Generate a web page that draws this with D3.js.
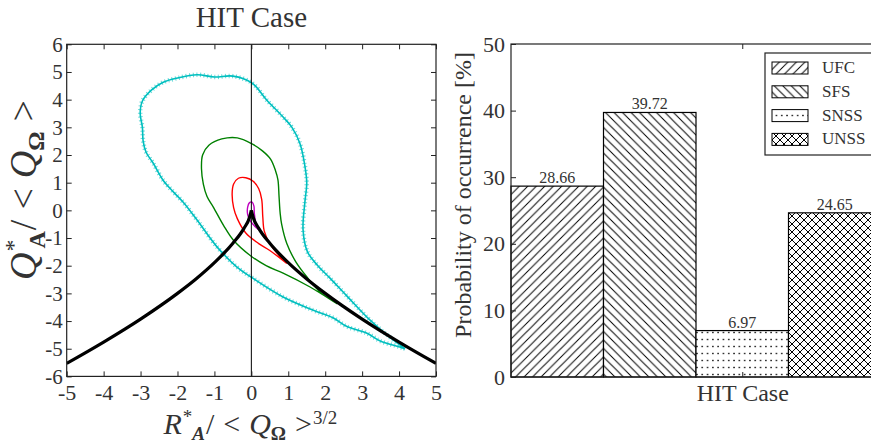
<!DOCTYPE html>
<html>
<head>
<meta charset="utf-8">
<script src="https://cdn.jsdelivr.net/npm/d3@7"></script>
<style>
  html, body { margin: 0; padding: 0; background: #fff; }
  svg { display: block; }
  svg text { font-family: "Liberation Serif", "DejaVu Serif", serif !important; fill: #333; }
</style>
</head>
<body>
<svg id="chart" width="871" height="447"></svg>
<script>
// ---------------- DATA ----------------
// Left panel: joint PDF contours of (R*_A, Q*_A)
const xTicksLeft = [-5, -4, -3, -2, -1, 0, 1, 2, 3, 4, 5];
const yTicksLeft = [-6, -5, -4, -3, -2, -1, 0, 1, 2, 3, 4, 5, 6];
const leftTitle = "HIT Case";

const contourCyan = [[4.16,-5.0],[3.67,-4.5],[3.2,-3.95],[2.59,-3.1],[2.13,-2.45],[1.8,-2.0],[1.52,-1.5],[1.4,-0.7],[1.45,0.3],[1.5,1.0],[1.45,1.6],[1.32,2.4],[1.1,3.0],[0.86,3.37],[0.42,3.98],[0.02,4.6],[-0.5,4.85],[-1.0,4.82],[-1.47,4.9],[-2.0,4.78],[-2.4,4.62],[-2.7,4.35],[-2.95,3.95],[-3.01,3.5],[-2.95,3.0],[-2.93,2.5],[-2.85,2.1],[-2.66,1.71],[-2.39,1.09],[-2.1,0.65],[-1.85,0.3],[-1.47,-0.35],[-0.93,-1.32],[-0.39,-2.05],[0.04,-2.45],[0.86,-3.13],[1.68,-3.61],[2.21,-3.88],[2.59,-4.2],[3.13,-4.44],[3.49,-4.72],[4.02,-4.94],[4.16,-5.0]];
const contourGreen = [[2.33,-3.38],[1.86,-2.95],[1.5,-2.4],[1.2,-1.85],[0.96,-1.2],[0.82,-0.5],[0.78,-0.1],[0.75,0.5],[0.72,1.1],[0.65,1.45],[0.52,1.85],[0.3,2.15],[0.02,2.4],[-0.38,2.62],[-0.8,2.58],[-1.15,2.35],[-1.32,2.0],[-1.35,1.5],[-1.30,0.95],[-1.2,0.5],[-1.03,0.12],[-0.75,-0.55],[-0.49,-1.07],[-0.04,-1.62],[0.4,-2.0],[0.86,-2.27],[1.59,-2.77],[2.0,-3.1],[2.33,-3.38]];
const contourRed = [[0.96,-1.92],[0.7,-1.55],[0.5,-1.2],[0.35,-0.75],[0.31,-0.24],[0.28,0.4],[0.2,0.78],[0.05,1.05],[-0.15,1.18],[-0.35,1.16],[-0.48,0.95],[-0.52,0.6],[-0.48,0.1],[-0.38,-0.3],[-0.15,-0.82],[0.2,-1.2],[0.5,-1.45],[0.96,-1.92]];
const contourMagenta = [[0.2,-0.7],[0.12,-0.45],[0.08,-0.1],[0.07,0.15],[0.02,0.3],[-0.05,0.28],[-0.1,0.12],[-0.1,-0.15],[-0.02,-0.4],[0.1,-0.58],[0.2,-0.7]];
// Vieillefosse (zero discriminant) line
const vieLeft  = [[-5,-5.53],[-4,-4.76],[-3,-3.93],[-2,-3.0],[-1.5,-2.48],[-1,-1.89],[-0.5,-1.19],[-0.2,-0.65],[-0.05,-0.26],[0,0]];
const vieRight = [[0,0],[0.05,-0.26],[0.2,-0.65],[0.5,-1.19],[1,-1.89],[1.5,-2.48],[2,-3.0],[3,-3.93],[4,-4.76],[5,-5.53]];

// Right panel: probability of occurrence
const categories = ["UFC", "SFS", "SNSS", "UNSS"];
const probValues = [28.66, 39.72, 6.97, 24.65];
const yTicksRight = [0, 10, 20, 30, 40, 50];
const caseLabel = "HIT Case";
const rightYLabel = "Probability of occurrence [%]";

// ---------------- DRAW ----------------
const svg = d3.select("#chart");
const defs = svg.append("defs");

// ===== Left panel =====
const L = { x0: 66.7, x1: 436, y0: 44.3, y1: 376.4 };
const xL = d3.scaleLinear().domain([-5, 5]).range([L.x0, L.x1]);
const yL = d3.scaleLinear().domain([-6, 6]).range([L.y1, L.y0]);

defs.append("clipPath").attr("id", "clipL")
  .append("rect").attr("x", L.x0).attr("y", L.y0).attr("width", L.x1 - L.x0).attr("height", L.y1 - L.y0);

const gL = svg.append("g");
const plotL = gL.append("g").attr("clip-path", "url(#clipL)");

const contourLine = d3.line().x(d => xL(d[0])).y(d => yL(d[1])).curve(d3.curveCatmullRom.alpha(0.5));

// cyan: jagged scatter-like band
plotL.append("path").datum(contourCyan).attr("d", contourLine)
  .attr("fill", "none").attr("stroke", "#00bfbf").attr("stroke-width", 1.6);
plotL.append("path").datum(contourCyan).attr("d", contourLine)
  .attr("fill", "none").attr("stroke", "#00bfbf").attr("stroke-width", 4.5)
  .attr("stroke-dasharray", "1,2.6").attr("opacity", 0.6);

plotL.append("path").datum(contourGreen).attr("d", contourLine)
  .attr("fill", "none").attr("stroke", "#008000").attr("stroke-width", 1.4);
plotL.append("path").datum(contourRed).attr("d", contourLine)
  .attr("fill", "none").attr("stroke", "#ff0000").attr("stroke-width", 1.4);
plotL.append("path").datum(contourMagenta).attr("d", contourLine)
  .attr("fill", "none").attr("stroke", "#bf00bf").attr("stroke-width", 1.4);

const vieLine = d3.line().x(d => xL(d[0])).y(d => yL(d[1])).curve(d3.curveMonotoneX);
plotL.append("path").datum(vieLeft).attr("d", vieLine)
  .attr("fill", "none").attr("stroke", "#000").attr("stroke-width", 3.2);
plotL.append("path").datum(vieRight).attr("d", vieLine)
  .attr("fill", "none").attr("stroke", "#000").attr("stroke-width", 3.2);

// vertical line at R = 0
plotL.append("line").attr("x1", xL(0)).attr("x2", xL(0)).attr("y1", L.y0).attr("y2", L.y1)
  .attr("stroke", "#000").attr("stroke-width", 1);

// frame
gL.append("rect").attr("x", L.x0).attr("y", L.y0).attr("width", L.x1 - L.x0).attr("height", L.y1 - L.y0)
  .attr("fill", "none").attr("stroke", "#222").attr("stroke-width", 1.2);

// inside ticks via d3 axes
const tickLen = 5;
const fmt = d => d < 0 ? "-" + Math.abs(d) : String(d);
gL.append("g").attr("transform", `translate(0,${L.y1})`)
  .call(d3.axisBottom(xL).tickValues(xTicksLeft).tickSize(-tickLen).tickFormat(fmt).tickPadding(8))
  .call(g => g.select(".domain").remove())
  .call(g => g.selectAll("text").attr("font-size", 22));
gL.append("g").attr("transform", `translate(0,${L.y0})`)
  .call(d3.axisTop(xL).tickValues(xTicksLeft).tickSize(-tickLen).tickFormat(""))
  .call(g => g.select(".domain").remove());
gL.append("g").attr("transform", `translate(${L.x0},0)`)
  .call(d3.axisLeft(yL).tickValues(yTicksLeft).tickSize(-tickLen).tickFormat(fmt).tickPadding(4))
  .call(g => g.select(".domain").remove())
  .call(g => g.selectAll("text").attr("font-size", 21));
gL.append("g").attr("transform", `translate(${L.x1},0)`)
  .call(d3.axisRight(yL).tickValues(yTicksLeft).tickSize(-tickLen).tickFormat(""))
  .call(g => g.select(".domain").remove());
svg.selectAll(".tick line").attr("stroke", "#222");

// title
gL.append("text").attr("x", (L.x0 + L.x1) / 2).attr("y", 27).attr("text-anchor", "middle")
  .attr("font-size", 29).text(leftTitle);

// x label: R*_A / < Q_Ω >^{3/2}
const xlab = gL.append("text").attr("x", (L.x0 + L.x1) / 2 - 1).attr("y", 434).attr("text-anchor", "middle")
  .attr("font-size", 30);
xlab.append("tspan").attr("font-style", "italic").text("R");
xlab.append("tspan").attr("font-size", 19).attr("dy", -11).attr("dx", 1).text("*");
xlab.append("tspan").attr("font-size", 19).attr("font-weight", "bold").attr("font-style", "italic").attr("dy", 17).attr("dx", 0).text("A");
xlab.append("tspan").attr("dy", -6).attr("dx", 1).text("/");
xlab.append("tspan").attr("dx", 9).text("<");
xlab.append("tspan").attr("font-style", "italic").attr("dx", 9).text("Q");
xlab.append("tspan").attr("font-size", 19).attr("font-weight", "bold").attr("dy", 6).text("Ω");
xlab.append("tspan").attr("dy", -6).attr("dx", 9).text(">");
xlab.append("tspan").attr("font-size", 19).attr("dy", -10).attr("dx", 1).text("3/2");

// y label: Q*_A / < Q_Ω >
const ylab = gL.append("text").attr("transform", "translate(36,190) rotate(-90)").attr("text-anchor", "middle")
  .attr("font-size", 38);
ylab.append("tspan").attr("font-style", "italic").text("Q");
ylab.append("tspan").attr("font-size", 24).attr("dy", -15).attr("dx", 1).text("*");
ylab.append("tspan").attr("font-size", 24).attr("font-weight", "bold").attr("dy", 24).attr("dx", -9).text("A");
ylab.append("tspan").attr("dy", -9).attr("dx", 1).text("/");
ylab.append("tspan").attr("dx", 10).text("<");
ylab.append("tspan").attr("font-style", "italic").attr("dx", 10).text("Q");
ylab.append("tspan").attr("font-size", 24).attr("font-weight", "bold").attr("dy", 8).text("Ω");
ylab.append("tspan").attr("dy", -8).attr("dx", 10).text(">");

// ===== Right panel =====
const Rp = { x0: 511, x1: 881, y0: 44, y1: 377 };
const xR = d3.scaleBand().domain(categories).range([Rp.x0, Rp.x1]).padding(0);
const yR = d3.scaleLinear().domain([0, 50]).range([Rp.y1, Rp.y0]);
const caseX = xR(categories[2]) + xR.bandwidth() / 2;

// hatch patterns
const hs = 8.5;
function makePattern(id, drawFn, w, h) {
  const p = defs.append("pattern").attr("id", id).attr("patternUnits", "userSpaceOnUse")
    .attr("width", w).attr("height", h);
  p.append("rect").attr("width", w).attr("height", h).attr("fill", "#fff");
  drawFn(p, w, h);
}
makePattern("hatchFwd", (p, w, h) => {
  p.append("path").attr("d", `M${-w},${h} L${w},${-h} M0,${2*h} L${2*w},0 M0,${h} L${w},0`)
    .attr("stroke", "#000").attr("stroke-width", 1).attr("fill", "none");
}, hs, hs);
makePattern("hatchBack", (p, w, h) => {
  p.append("path").attr("d", `M0,0 L${w},${h} M${-w},0 L${w},${2*h} M0,${-h} L${2*w},${h}`)
    .attr("stroke", "#000").attr("stroke-width", 1).attr("fill", "none");
}, hs, hs);
makePattern("hatchDots", (p, w, h) => {
  p.append("rect").attr("x", w / 2 - 0.7).attr("y", h / 2 - 0.7).attr("width", 1.4).attr("height", 1.4).attr("fill", "#000");
}, 5.3, 7);
makePattern("hatchCross", (p, w, h) => {
  p.append("path").attr("d", `M0,${h} L${w},0 M${-w},${h} L${w},${-h} M0,${2*h} L${2*w},0 M0,0 L${w},${h} M${-w},0 L${w},${2*h} M0,${-h} L${2*w},${h}`)
    .attr("stroke", "#000").attr("stroke-width", 1).attr("fill", "none");
}, 8, 8);
const patternIds = ["hatchFwd", "hatchBack", "hatchDots", "hatchCross"];

const gR = svg.append("g");
gR.selectAll("rect.bar").data(categories).join("rect").attr("class", "bar")
  .attr("x", d => xR(d)).attr("width", xR.bandwidth())
  .attr("y", (d, i) => yR(probValues[i])).attr("height", (d, i) => yR(0) - yR(probValues[i]))
  .attr("fill", (d, i) => `url(#${patternIds[i]})`)
  .attr("stroke", "#000").attr("stroke-width", 1.2);

gR.selectAll("text.val").data(categories).join("text").attr("class", "val")
  .attr("x", d => xR(d) + xR.bandwidth() / 2).attr("y", (d, i) => yR(probValues[i]) - 3)
  .attr("text-anchor", "middle").attr("font-size", 16)
  .text((d, i) => probValues[i].toFixed(2));

// frame
gR.append("rect").attr("x", Rp.x0).attr("y", Rp.y0).attr("width", Rp.x1 - Rp.x0).attr("height", Rp.y1 - Rp.y0)
  .attr("fill", "none").attr("stroke", "#222").attr("stroke-width", 1.2);

gR.append("g").attr("transform", `translate(${Rp.x0},0)`)
  .call(d3.axisLeft(yR).tickValues(yTicksRight).tickSize(-tickLen).tickPadding(6))
  .call(g => g.select(".domain").remove())
  .call(g => g.selectAll("text").attr("font-size", 22));
const caseScale = d3.scaleOrdinal().domain([caseLabel]).range([caseX]);
gR.append("g").attr("transform", `translate(0,${Rp.y1})`)
  .call(d3.axisBottom(caseScale).tickSize(-tickLen).tickPadding(7))
  .call(g => g.select(".domain").remove())
  .call(g => g.selectAll("text").attr("font-size", 24));
gR.append("g").attr("transform", `translate(0,${Rp.y0})`)
  .call(d3.axisTop(caseScale).tickSize(-tickLen).tickFormat(""))
  .call(g => g.select(".domain").remove());
gR.selectAll(".tick line").attr("stroke", "#222");

// y label
gR.append("text").attr("transform", `translate(471,195) rotate(-90)`).attr("text-anchor", "middle")
  .attr("font-size", 24).text(rightYLabel);

// legend
const leg = gR.append("g");
leg.append("rect").attr("x", 765).attr("y", 53).attr("width", 120).attr("height", 102)
  .attr("fill", "#fff").attr("stroke", "#222").attr("stroke-width", 1.2);
categories.forEach((c, i) => {
  const yy = 62 + i * 23.8;
  leg.append("rect").attr("x", 772).attr("y", yy).attr("width", 36).attr("height", 12)
    .attr("fill", `url(#${patternIds[i]})`).attr("stroke", "#000").attr("stroke-width", 1);
  leg.append("text").attr("x", 822).attr("y", yy + 11).attr("font-size", 17).text(c);
});
</script>
</body>
</html>
